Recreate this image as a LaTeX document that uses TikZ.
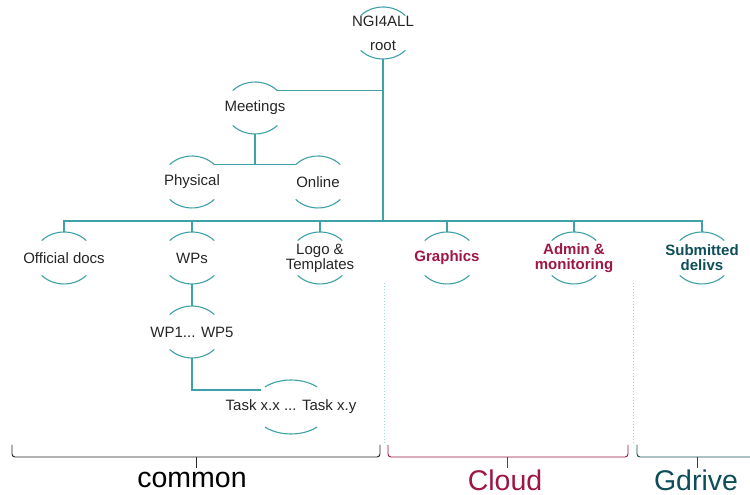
\documentclass[tikz,border=0pt]{standalone}
\usepackage{fontspec}
\setmainfont{Liberation Sans}
\definecolor{tealln}{RGB}{62,162,168}
\definecolor{crim}{RGB}{158,22,70}
\definecolor{dteal}{RGB}{14,78,88}
\definecolor{sepdots}{RGB}{150,212,222}
\usetikzlibrary{positioning,calc}

\begin{document}
\begin{tikzpicture}[x=1pt,y=1pt,
    ln/.style={tealln,line width=1.1pt},
    lbl/.style={font=\fontsize{15}{15}\selectfont,align=center,inner sep=0pt,text=black!85},
    hot/.style={lbl,font=\fontsize{15}{15}\selectfont\bfseries},
    brc/.style={line width=0.9pt,rounded corners=3pt}]
  \clip (0,0) rectangle (750,495);
  \fill[white] (0,0) rectangle (750,495);

  % folders
  \node[lbl,font=\fontsize{15}{24}\selectfont] (root) at (383,462) {NGI4ALL\\root};
  \node[lbl] (meet) at (255,387) {Meetings};
  \node[lbl] (phys) at (192,313) {Physical};
  \node[lbl] (onl) at (318,313) {Online};
  \node[lbl] (offd) at (64,237) {Official docs};
  \node[lbl] (wps) at (192,237) {WPs};
  \node[lbl] (logo) at (320,237) {Logo \&\\Templates};
  \node[hot,text=crim] (graph) at (447,237) {Graphics};
  \node[hot,text=crim] (admin) at (574,237) {Admin \&\\monitoring};
  \node[hot,text=dteal] (subm) at (702,237) {Submitted\\delivs};
  \node[lbl] (wpn) at (192,163) {WP1... WP5};
  \node[lbl] (task) at (291,88) {Task x.x ... Task x.y};

  \foreach \n in {root,meet,phys,onl,offd,wps,logo,graph,admin,subm,wpn} {
    \draw[ln] ([shift={(42:30 and 26)}]\n.center) arc[start angle=42,end angle=138,x radius=30,y radius=26];
    \draw[ln] ([shift={(222:30 and 26)}]\n.center) arc[start angle=222,end angle=318,x radius=30,y radius=26];
    \coordinate (\n-n) at ([shift={(0,26)}]\n.center);
    \coordinate (\n-s) at ([shift={(0,-26)}]\n.center);
    \coordinate (\n-ne) at ([shift={(42:30 and 26)}]\n.center);
    \coordinate (\n-nw) at ([shift={(138:30 and 26)}]\n.center);
  }
  \draw[ln] ([shift={(48:39 and 27)}]task.center) arc[start angle=48,end angle=132,x radius=39,y radius=27];
  \draw[ln] ([shift={(228:39 and 27)}]task.center) arc[start angle=228,end angle=312,x radius=39,y radius=27];
  \coordinate (task-w) at ([shift={(141:39 and 27)}]task.center);

  % tree lines
  \coordinate (bus) at ([shift={(0,11)}]offd-n);
  \draw[ln] (root-s) -- (root-s |- bus);
  \draw[ln] (meet-ne) -- (meet-ne -| root-s);
  \draw[ln] (phys-ne) -- (onl-nw);
  \draw[ln] (meet-s) -- (meet-s |- phys-ne);
  \draw[ln] (offd-n) -- (bus) -| (subm-n);
  \foreach \n in {wps,logo,graph,admin}
    \draw[ln] (\n-n) -- (\n-n |- bus);
  \draw[ln] (wps-s) -- (wpn-n);
  \draw[ln] (wpn-s) |- (task-w);

  % storage split
  \draw[sepdots,line width=1pt,dotted] (384,212) -- (384,52);
  \draw[sepdots,line width=1pt,dotted] (633,212) -- (633,52);

  \draw[brc,black!85] (12,50) -- (12,38) -- (380,38) -- (380,50);
  \draw[black!85,line width=0.9pt] (196,38) -- (196,27);
  \draw[brc,crim] (388,50) -- (388,38) -- (628,38) -- (628,50);
  \draw[crim,line width=0.9pt] (507,38) -- (507,27);
  \draw[brc,dteal] (637,50) -- (637,38) -- (760,38);
  \draw[dteal,line width=0.9pt] (697,38) -- (697,27);

  \node[font=\fontsize{28.5}{28.5}\selectfont,inner sep=0pt] (common) at (192,15) {common};
  \node[font=\fontsize{28.5}{28.5}\selectfont,inner sep=0pt,text=crim] (cloud) at (505,15) {Cloud};
  \node[font=\fontsize{28.5}{28.5}\selectfont,inner sep=0pt,text=dteal] (gdrive) at (696,15) {Gdrive};
\end{tikzpicture}
\end{document}
